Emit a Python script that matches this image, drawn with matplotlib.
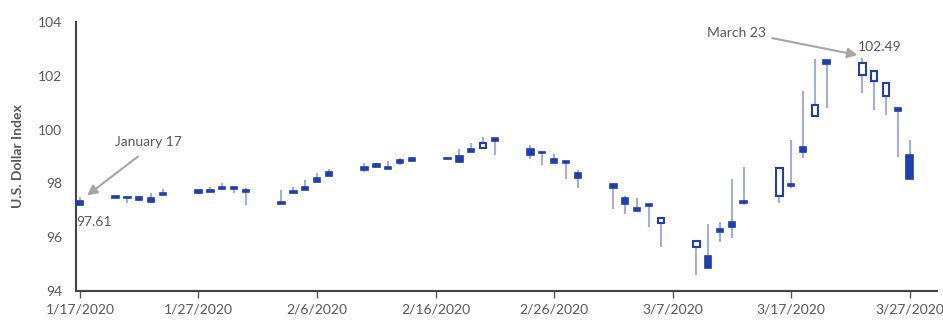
import matplotlib
matplotlib.use("Agg")
import matplotlib.pyplot as plt
import matplotlib.dates as mdates
import pandas as pd
import numpy as np

plt.rcParams['font.family'] = ['Lato', 'DejaVu Sans']

dates = pd.bdate_range('2020-01-17', '2020-03-27')
opens = [97.36, 97.53, 97.51, 97.51, 97.45, 97.63, 97.75, 97.75, 97.88, 97.86, 97.73,
         97.32, 97.72, 97.86, 98.19, 98.43, 98.60, 98.71, 98.62, 98.87, 98.96,
         98.96, 99.03, 99.27, 99.30, 99.68, 99.28, 99.18, 98.91, 98.84, 98.38,
         97.98, 97.45, 97.07, 97.23, 96.52, 95.65, 95.30, 96.30, 96.58, 97.36,
         97.54, 97.98, 99.36, 100.51, 102.59, 102.03, 101.81, 101.25, 100.79, 99.06]
highs = [97.51, 97.55, 97.52, 97.53, 97.65, 97.78, 97.77, 97.86, 98.00, 97.87, 97.82,
         97.75, 97.86, 98.13, 98.38, 98.52, 98.75, 98.77, 98.83, 98.93, 98.97,
         98.97, 99.27, 99.49, 99.71, 99.69, 99.43, 99.19, 99.09, 98.85, 98.50,
         97.99, 97.53, 97.47, 97.24, 96.71, 95.87, 96.49, 96.58, 98.15, 98.62,
         98.57, 99.61, 101.45, 102.61, 102.60, 102.65, 102.20, 101.75, 100.80, 99.61]
lows = [97.20, 97.45, 97.28, 97.35, 97.31, 97.55, 97.62, 97.68, 97.77, 97.63, 97.20,
        97.22, 97.62, 97.74, 98.05, 98.27, 98.43, 98.56, 98.53, 98.68, 98.83,
        98.89, 98.77, 99.17, 99.29, 99.06, 98.90, 98.68, 98.74, 98.15, 97.82,
        97.04, 96.85, 96.98, 96.39, 95.65, 94.59, 94.84, 95.83, 95.96, 97.20,
        97.28, 97.82, 98.93, 100.50, 100.79, 101.35, 100.73, 100.54, 98.99, 98.15]
closes = [97.20, 97.47, 97.46, 97.38, 97.32, 97.56, 97.63, 97.69, 97.78, 97.79, 97.69,
          97.23, 97.63, 97.75, 98.06, 98.28, 98.50, 98.62, 98.54, 98.75, 98.84,
          98.90, 98.78, 99.18, 99.51, 99.59, 99.06, 99.12, 98.75, 98.77, 98.21,
          97.82, 97.23, 96.99, 97.17, 96.70, 95.86, 94.85, 96.20, 96.39, 97.28,
          98.56, 97.90, 99.18, 100.91, 102.44, 102.49, 102.19, 101.74, 100.69, 98.15]
tick_dates = pd.date_range('2020-01-17', '2020-03-27', freq='10D')

dark = '#1e3eb2'
wick = '#a3aedb'
grey = '#595959'

fig = plt.figure(figsize=(9.43, 3.22), dpi=100)
ax = fig.add_axes([0.0806, 0.0963, 0.9130, 0.8354])

x = mdates.date2num(dates)
o = np.array(opens); c = np.array(closes)
ax.vlines(x, lows, highs, color=wick, lw=1.5, zorder=2)
up = c > o
bottom = np.minimum(o, c)
height = np.maximum(np.abs(c - o), 0.05)
ax.bar(x[~up], height[~up], bottom=bottom[~up], width=0.55,
       color=dark, edgecolor=dark, lw=1.2, zorder=3)
ax.bar(x[up], height[up], bottom=bottom[up], width=0.55,
       color='white', edgecolor=dark, lw=1.5, zorder=3)

x0 = mdates.date2num(pd.Timestamp('2020-01-17'))
ax.set_xlim(x0 - 0.33, x0 + 72.3)
ax.set_ylim(94, 104)
ax.set_yticks(np.arange(94, 105, 2))
ax.set_xticks(mdates.date2num(tick_dates))
ax.set_xticklabels([f"{d.month}/{d.day}/{d.year}" for d in tick_dates])
ax.tick_params(axis='y', length=0, pad=10, labelsize=10, colors=grey)
ax.tick_params(axis='x', length=5, width=1, color=grey, pad=4, labelsize=10, labelcolor=grey)
for s in ['top', 'right']:
    ax.spines[s].set_visible(False)
for s in ['left', 'bottom']:
    ax.spines[s].set_color('#444444')
    ax.spines[s].set_linewidth(1.5)
ax.set_ylabel('U.S. Dollar Index', fontsize=10, color=grey, fontweight='bold', labelpad=10)

arrow = dict(arrowstyle='-|>', color='#a6a6a6', lw=1.5, mutation_scale=15, shrinkA=0, shrinkB=0)
ax.annotate('', xy=(x0 + 0.6, 97.55), xytext=(x0 + 4.9, 99.0), arrowprops=arrow)
ax.text(x0 + 2.95, 99.55, 'January 17', fontsize=10, color=grey, va='center')
ax.text(x0 - 0.3, 96.57, '97.61', fontsize=10, color=grey, va='center')
ax.annotate('', xy=(x0 + 65.6, 102.77), xytext=(x0 + 58.4, 103.40), arrowprops=arrow)
ax.text(x0 + 52.9, 103.59, 'March 23', fontsize=10, color=grey, va='center')
ax.text(x0 + 65.6, 103.07, '102.49', fontsize=10, color=grey, va='center')

fig.savefig('out.png', dpi=100)
